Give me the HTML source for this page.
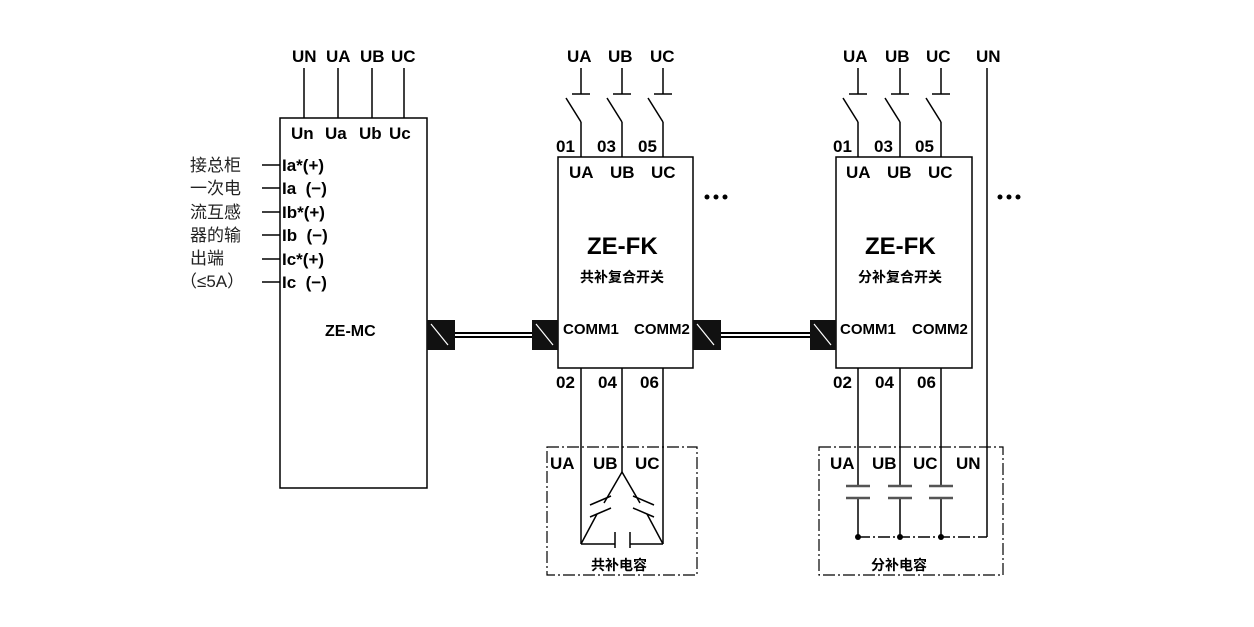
<!DOCTYPE html>
<html><head><meta charset="utf-8"><style>
html,body{margin:0;padding:0;background:#fff;}
svg{display:block}
.b{font-family:"Liberation Sans","Noto Sans CJK SC",sans-serif;font-weight:bold;font-size:17px;fill:#000}
.c{font-family:"Liberation Sans","Noto Sans CJK SC",sans-serif;font-size:17px;fill:#222}
</style></head><body>
<svg width="1254" height="627" viewBox="0 0 1254 627" xmlns="http://www.w3.org/2000/svg">
<g stroke="#000" stroke-width="1.5" fill="none">
<!-- MC -->
<rect x="280" y="118" width="147" height="370"/>
<line x1="304" y1="68" x2="304" y2="118"/><line x1="338" y1="68" x2="338" y2="118"/>
<line x1="372" y1="68" x2="372" y2="118"/><line x1="404" y1="68" x2="404" y2="118"/>
<line x1="262" y1="165" x2="280" y2="165"/><line x1="262" y1="188" x2="280" y2="188"/>
<line x1="262" y1="212" x2="280" y2="212"/><line x1="262" y1="235" x2="280" y2="235"/>
<line x1="262" y1="259" x2="280" y2="259"/><line x1="262" y1="282" x2="280" y2="282"/>
<!-- FK1 -->
<rect x="558" y="157" width="135" height="211"/>
<!-- FK2 -->
<rect x="836" y="157" width="136" height="211"/>
<!-- switches -->
<g id="sw">
<line x1="581" y1="68" x2="581" y2="94"/><line x1="572" y1="94" x2="590" y2="94"/>
<line x1="566" y1="98" x2="581" y2="122"/><line x1="581" y1="122" x2="581" y2="157"/>
</g>
<use href="#sw" x="41"/><use href="#sw" x="82"/>
<use href="#sw" x="277"/><use href="#sw" x="319"/><use href="#sw" x="360"/>
<line x1="987" y1="68" x2="987" y2="537"/>
<!-- FK1 bottom -->
<line x1="581" y1="368" x2="581" y2="544"/><line x1="622" y1="368" x2="622" y2="472"/><line x1="663" y1="368" x2="663" y2="544"/>
<polyline points="581,544 615,544"/><polyline points="630,544 663,544"/>
<line x1="615" y1="532" x2="615" y2="548"/><line x1="630" y1="532" x2="630" y2="548"/>
<line x1="622" y1="472" x2="604" y2="503"/><line x1="597" y1="514" x2="581" y2="544"/>
<line x1="590" y1="505" x2="611" y2="496"/><line x1="590" y1="517" x2="611" y2="508"/>
<line x1="622" y1="472" x2="640" y2="503"/><line x1="647" y1="514" x2="663" y2="544"/>
<line x1="633" y1="496" x2="654" y2="505"/><line x1="633" y1="508" x2="654" y2="517"/>
<rect x="547" y="447" width="150" height="128" stroke-dasharray="12,3,2,3" stroke-width="1.2"/>
<!-- FK2 bottom -->
<line x1="858" y1="368" x2="858" y2="486"/><line x1="858" y1="498" x2="858" y2="537"/>
<line x1="900" y1="368" x2="900" y2="486"/><line x1="900" y1="498" x2="900" y2="537"/>
<line x1="941" y1="368" x2="941" y2="486"/><line x1="941" y1="498" x2="941" y2="537"/>
<g stroke="#555" stroke-width="2.5">
<line x1="846" y1="486" x2="870" y2="486"/><line x1="846" y1="498" x2="870" y2="498"/>
<line x1="888" y1="486" x2="912" y2="486"/><line x1="888" y1="498" x2="912" y2="498"/>
<line x1="929" y1="486" x2="953" y2="486"/><line x1="929" y1="498" x2="953" y2="498"/>
</g>
<line x1="858" y1="537" x2="987" y2="537" stroke-dasharray="12,3,2,3"/>
<rect x="819" y="447" width="184" height="128" stroke-dasharray="12,3,2,3" stroke-width="1.2"/>
<!-- cables -->
<line x1="450" y1="333" x2="538" y2="333" stroke-width="2"/><line x1="450" y1="337" x2="538" y2="337" stroke-width="2"/>
<line x1="715" y1="333" x2="815" y2="333" stroke-width="2"/><line x1="715" y1="337" x2="815" y2="337" stroke-width="2"/>
</g>
<g fill="#111">
<rect x="427" y="320" width="28" height="30"/><rect x="532" y="320" width="26" height="30"/>
<rect x="693" y="320" width="28" height="30"/><rect x="810" y="320" width="26" height="30"/>
</g>
<g stroke="#fff" stroke-width="1.2">
<line x1="431" y1="324" x2="448" y2="345"/><line x1="536" y1="324" x2="553" y2="345"/>
<line x1="697" y1="324" x2="714" y2="345"/><line x1="814" y1="324" x2="831" y2="345"/>
</g>
<g fill="#000">
<circle cx="858" cy="537" r="3"/><circle cx="900" cy="537" r="3"/><circle cx="941" cy="537" r="3"/>
<circle cx="707" cy="197" r="2.5"/><circle cx="716" cy="197" r="2.5"/><circle cx="725" cy="197" r="2.5"/>
<circle cx="1000" cy="197" r="2.5"/><circle cx="1009" cy="197" r="2.5"/><circle cx="1018" cy="197" r="2.5"/>
</g>
<!-- texts -->
<g class="b">
<text x="292" y="62">UN</text><text x="326" y="62">UA</text><text x="360" y="62">UB</text><text x="391" y="62">UC</text>
<text x="291" y="139">Un</text><text x="325" y="139">Ua</text><text x="359" y="139">Ub</text><text x="389" y="139">Uc</text>
<text x="282" y="171">Ia*(+)</text><text x="282" y="194">Ia&#160;&#160;(−)</text>
<text x="282" y="218">Ib*(+)</text><text x="282" y="241">Ib&#160;&#160;(−)</text>
<text x="282" y="265">Ic*(+)</text><text x="282" y="288">Ic&#160;&#160;(−)</text>
<text x="325" y="336" font-size="16">ZE-MC</text>
<text x="567" y="62">UA</text><text x="608" y="62">UB</text><text x="650" y="62">UC</text>
<text x="556" y="152">01</text><text x="597" y="152">03</text><text x="638" y="152">05</text>
<text x="569" y="178">UA</text><text x="610" y="178">UB</text><text x="651" y="178">UC</text>
<text x="587" y="254" font-size="24" font-weight="normal" style="font-weight:bold">ZE-FK</text>
<text x="580" y="282" font-size="14">共补复合开关</text>
<text x="563" y="334" font-size="15">COMM1</text><text x="634" y="334" font-size="15">COMM2</text>
<text x="556" y="388">02</text><text x="598" y="388">04</text><text x="640" y="388">06</text>
<text x="550" y="469">UA</text><text x="593" y="469">UB</text><text x="635" y="469">UC</text>
<text x="591" y="570" font-size="14">共补电容</text>
<text x="843" y="62">UA</text><text x="885" y="62">UB</text><text x="926" y="62">UC</text><text x="976" y="62">UN</text>
<text x="833" y="152">01</text><text x="874" y="152">03</text><text x="915" y="152">05</text>
<text x="846" y="178">UA</text><text x="887" y="178">UB</text><text x="928" y="178">UC</text>
<text x="865" y="254" font-size="24">ZE-FK</text>
<text x="858" y="282" font-size="14">分补复合开关</text>
<text x="840" y="334" font-size="15">COMM1</text><text x="912" y="334" font-size="15">COMM2</text>
<text x="833" y="388">02</text><text x="875" y="388">04</text><text x="917" y="388">06</text>
<text x="830" y="469">UA</text><text x="872" y="469">UB</text><text x="913" y="469">UC</text><text x="956" y="469">UN</text>
<text x="871" y="570" font-size="14">分补电容</text>
</g>
<g class="c">
<text x="190" y="171">接总柜</text><text x="190" y="194">一次电</text><text x="190" y="218">流互感</text>
<text x="190" y="241">器的输</text><text x="190" y="264">出端</text><text x="180" y="287">（≤5A）</text>
</g>
</svg>
</body></html>
